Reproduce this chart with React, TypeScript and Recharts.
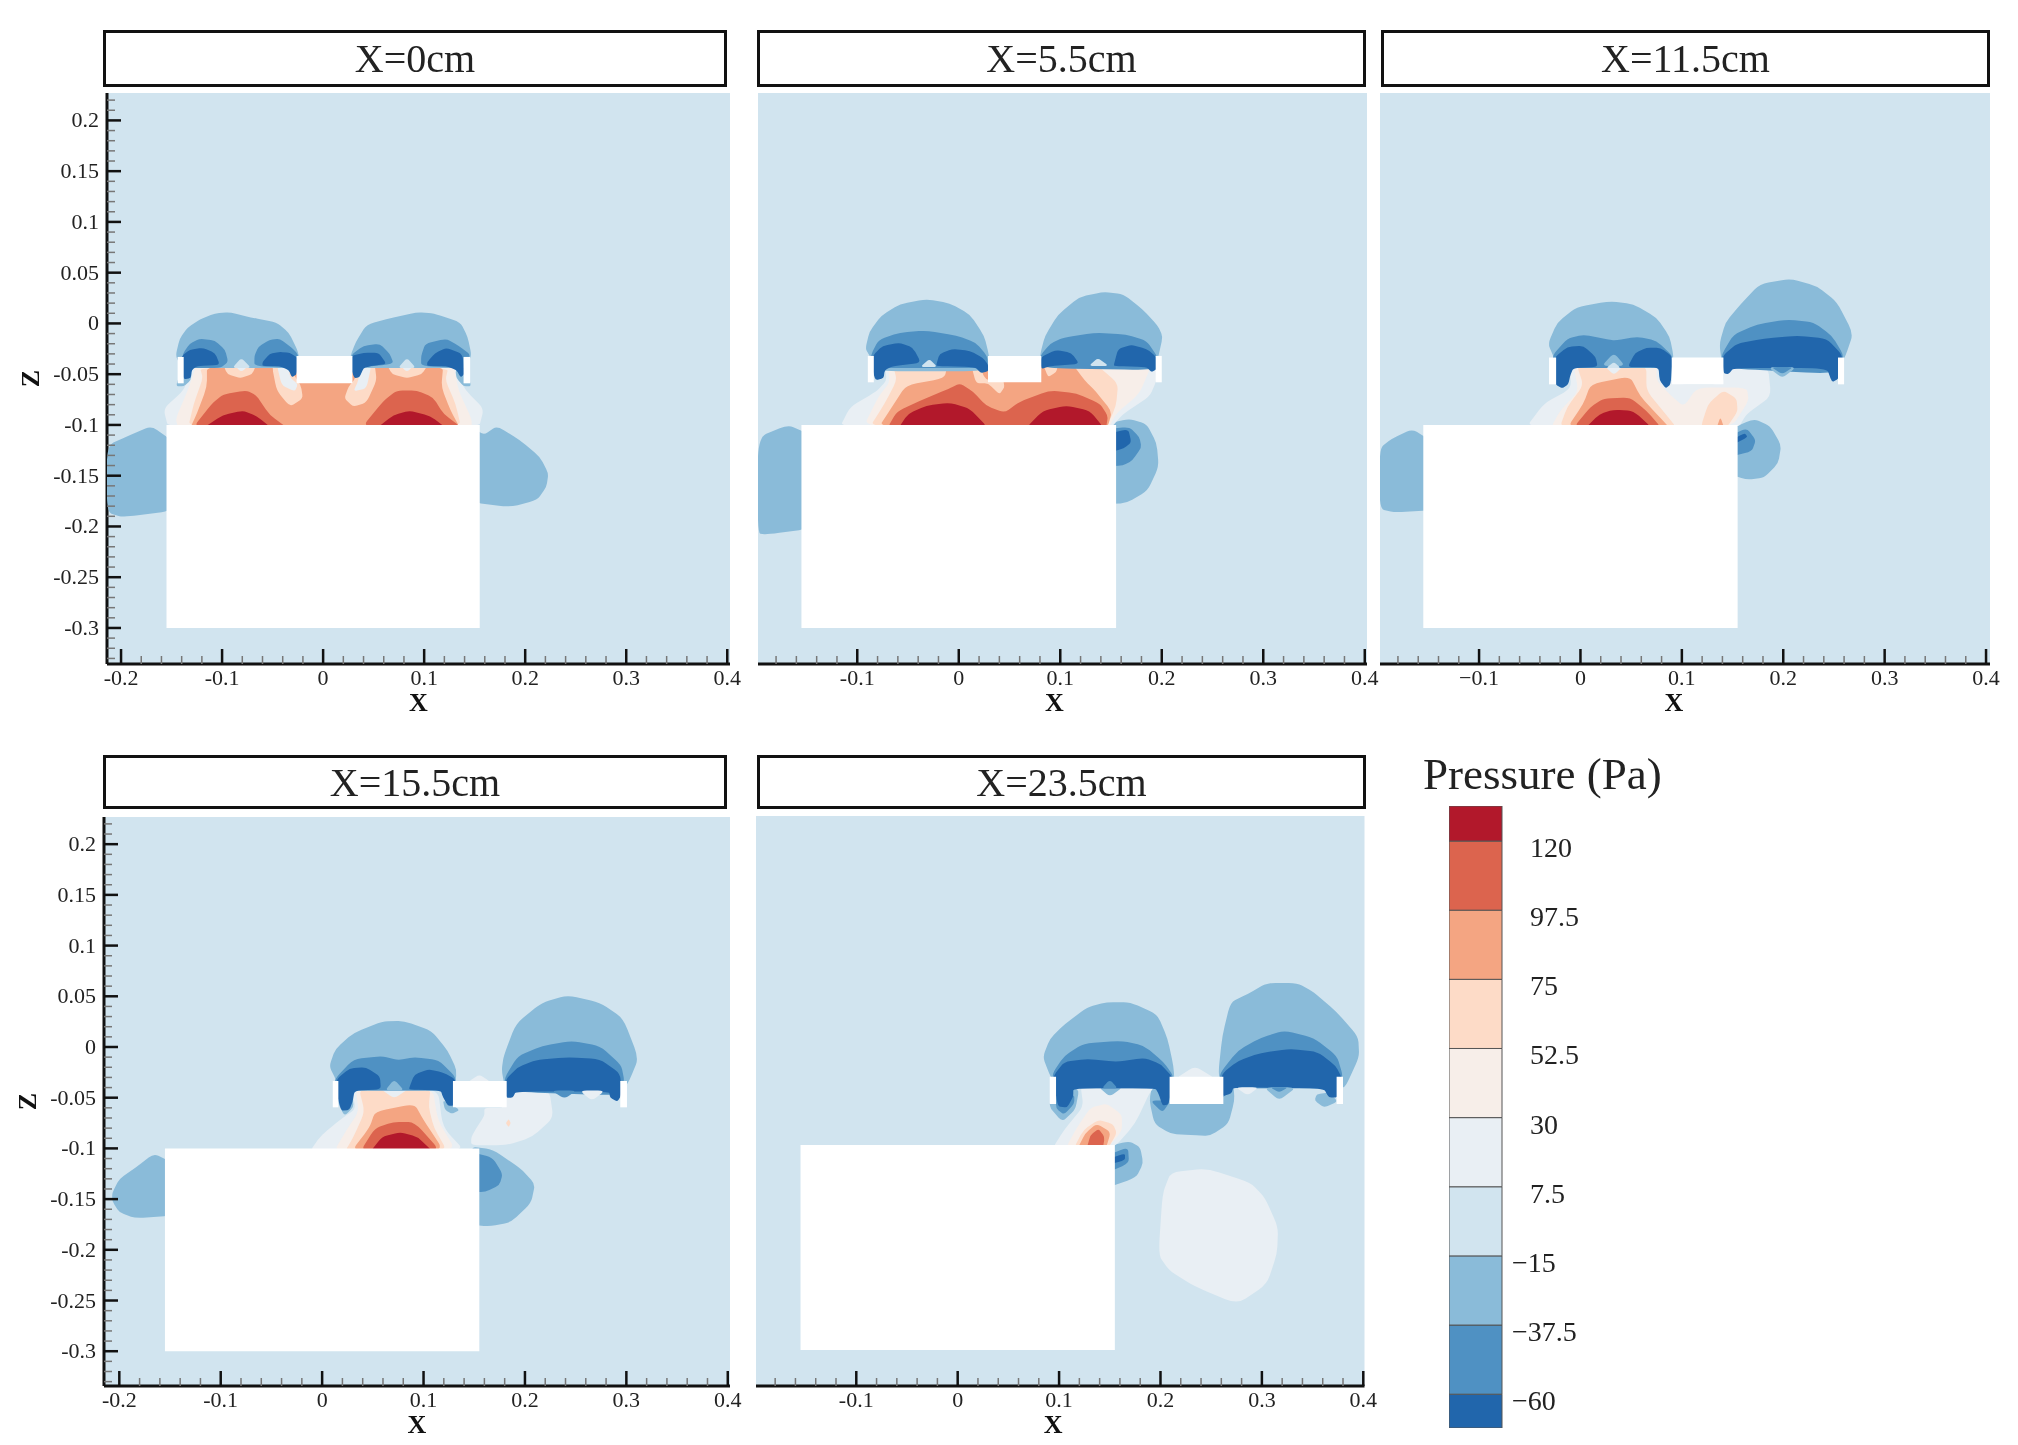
import React from 'react';
import { ScatterChart, Scatter, XAxis, YAxis } from 'recharts';

type Pt = [number, number];
type Layer = [Pt[], number];

const SERIF = '"Liberation Serif", "Times New Roman", serif';

// contour colours, bottom level first (same order as the colour bar)
const LEVEL_COLORS = ['#2166ac', '#4f91c3', '#8abbd9', '#d1e4ef', '#e9eff4', '#f7eee9', '#fddbc7', '#f4a582', '#dc644e', '#b2182b'];
const LEVEL_EDGES = [-71, -60, -37.5, -15, 7.5, 30, 52.5, 75, 97.5, 120, 131.4];
const LEVEL_TICKS = [120, 97.5, 75, 52.5, 30, 7.5, -15, -37.5, -60];
const WHITE = -1;

const X_LABELS = [-0.2, -0.1, 0, 0.1, 0.2, 0.3, 0.4];
const Z_LABELS = [0.2, 0.15, 0.1, 0.05, 0, -0.05, -0.1, -0.15, -0.2, -0.25, -0.3];

const steps = (from: number, to: number, step: number) => {
  const out: number[] = [];
  for (let i = 0; from + i * step <= to + 1e-9; i++) out.push(Math.round((from + i * step) * 100) / 100);
  return out;
};

const CAR_BODY: Pt[] = [[-0.155, -0.1], [0.155, -0.1], [0.155, -0.3], [-0.155, -0.3]];
const CAR_BODY_P5: Pt[] = [[-0.155, -0.1], [0.155, -0.1], [0.155, -0.302], [-0.155, -0.302]];

// ---- X=0cm
const P1_BLOB_LEFT: Pt[] = [[-0.214, -0.12], [-0.191, -0.11], [-0.17, -0.101], [-0.15, -0.115], [-0.145, -0.184], [-0.198, -0.191], [-0.214, -0.186]];
const P1_BLOB_RIGHT: Pt[] = [[0.145, -0.1], [0.159, -0.11], [0.172, -0.101], [0.195, -0.115], [0.215, -0.132], [0.223, -0.148], [0.221, -0.161], [0.212, -0.174], [0.185, -0.181], [0.145, -0.176]];
const P1_POS4: Pt[] = [[-0.132, -0.049], [-0.138, -0.066], [-0.158, -0.084], [-0.153, -0.104], [0.154, -0.104], [0.159, -0.084], [0.141, -0.066], [0.132, -0.049], [0.132, -0.043], [-0.128, -0.043]];
const P1_POS5: Pt[] = [[-0.127, -0.046], [-0.134, -0.066], [-0.146, -0.094], [-0.143, -0.104], [0.147, -0.104], [0.147, -0.094], [0.134, -0.066], [0.13, -0.046], [0.13, -0.043], [-0.127, -0.043]];
const P1_POS6: Pt[] = [[-0.122, -0.043], [-0.119, -0.054], [-0.128, -0.079], [-0.134, -0.104], [0.137, -0.104], [0.131, -0.079], [0.121, -0.056], [0.124, -0.043]];
const P1_POS7: Pt[] = [[-0.115, -0.04], [-0.115, -0.0625], [-0.125, -0.089], [-0.132, -0.104], [0.136, -0.104], [0.126, -0.0855], [0.117, -0.0625], [0.119, -0.04]];
const P1_BUMP6_L: Pt[] = [[-0.099, -0.04], [-0.095, -0.05], [-0.082, -0.054], [-0.07, -0.05], [-0.066, -0.04]];
const P1_BUMP6_R: Pt[] = [[0.063, -0.04], [0.068, -0.05], [0.083, -0.054], [0.098, -0.05], [0.104, -0.04]];
const P1_BUMP4_L: Pt[] = [[-0.089, -0.04], [-0.081, -0.048], [-0.072, -0.04]];
const P1_BUMP4_R: Pt[] = [[0.075, -0.04], [0.083, -0.048], [0.091, -0.04]];
const P1_MID6_L: Pt[] = [[-0.051, -0.04], [-0.046, -0.066], [-0.033, -0.082], [-0.02, -0.074], [-0.022, -0.061], [-0.03, -0.049], [-0.03, -0.04]];
const P1_MID4_L: Pt[] = [[-0.046, -0.04], [-0.041, -0.061], [-0.028, -0.067], [-0.025, -0.06], [-0.033, -0.053], [-0.034, -0.04]];
const P1_MID6_R: Pt[] = [[0.021, -0.074], [0.03, -0.082], [0.043, -0.078], [0.053, -0.056], [0.051, -0.04], [0.033, -0.04], [0.032, -0.054], [0.025, -0.0625]];
const P1_MID4_R: Pt[] = [[0.03, -0.067], [0.043, -0.064], [0.048, -0.04], [0.036, -0.04], [0.035, -0.056]];
const P1_HIGH8_L: Pt[] = [[-0.13, -0.104], [-0.11, -0.079], [-0.099, -0.07], [-0.076, -0.066], [-0.066, -0.071], [-0.053, -0.09], [-0.034, -0.104]];
const P1_HIGH8_R: Pt[] = [[0.037, -0.104], [0.06, -0.076], [0.073, -0.066], [0.093, -0.066], [0.109, -0.073], [0.119, -0.089], [0.139, -0.104]];
const P1_HIGH9_L: Pt[] = [[-0.12, -0.104], [-0.099, -0.09], [-0.079, -0.086], [-0.066, -0.091], [-0.05, -0.104]];
const P1_HIGH9_R: Pt[] = [[0.052, -0.104], [0.07, -0.09], [0.086, -0.086], [0.106, -0.091], [0.123, -0.104]];
const P1_TAIL_L: Pt[] = [[-0.138, -0.04], [-0.13, -0.046], [-0.131, -0.056], [-0.138, -0.062], [-0.146, -0.062]];
const P1_TAIL_R: Pt[] = [[0.131, -0.046], [0.139, -0.04], [0.147, -0.062], [0.139, -0.062], [0.132, -0.054]];
const P1_CAP_L: Pt[] = [[-0.146, -0.032], [-0.142, -0.015], [-0.134, -0.004], [-0.122, 0.004], [-0.107, 0.01], [-0.092, 0.011], [-0.072, 0.006], [-0.046, 0.001], [-0.034, -0.009], [-0.026, -0.025], [-0.024, -0.032], [-0.025, -0.044], [-0.14, -0.044]];
const P1_CAP_L1A: Pt[] = [[-0.139, -0.03], [-0.132, -0.02], [-0.122, -0.015], [-0.107, -0.017], [-0.097, -0.026], [-0.094, -0.038], [-0.102, -0.044], [-0.14, -0.044]];
const P1_CAP_L1B: Pt[] = [[-0.068, -0.032], [-0.064, -0.023], [-0.053, -0.016], [-0.043, -0.015], [-0.031, -0.024], [-0.025, -0.03], [-0.025, -0.044], [-0.068, -0.042]];
const P1_CAP_L0A: Pt[] = [[-0.14, -0.032], [-0.132, -0.026], [-0.119, -0.024], [-0.107, -0.029], [-0.102, -0.041], [-0.125, -0.042], [-0.13, -0.046], [-0.131, -0.054], [-0.138, -0.055], [-0.14, -0.046]];
const P1_CAP_L0B: Pt[] = [[-0.06, -0.038], [-0.053, -0.03], [-0.043, -0.028], [-0.033, -0.029], [-0.025, -0.034], [-0.026, -0.05], [-0.031, -0.053], [-0.034, -0.046], [-0.043, -0.042], [-0.06, -0.042]];
const P1_CAP_LB: Pt[] = [[-0.09, -0.044], [-0.081, -0.034], [-0.071, -0.044]];
const P1_CAP_R: Pt[] = [[0.027, -0.032], [0.032, -0.019], [0.043, -0.001], [0.07, 0.006], [0.093, 0.011], [0.109, 0.01], [0.136, 0.001], [0.143, -0.013], [0.147, -0.032], [0.14, -0.044], [0.028, -0.044]];
const P1_CAP_R1A: Pt[] = [[0.028, -0.031], [0.04, -0.022], [0.056, -0.02], [0.066, -0.03], [0.07, -0.04], [0.028, -0.044]];
const P1_CAP_R1B: Pt[] = [[0.097, -0.032], [0.101, -0.02], [0.122, -0.015], [0.134, -0.022], [0.146, -0.031], [0.14, -0.044], [0.097, -0.042]];
const P1_CAP_R0A: Pt[] = [[0.028, -0.032], [0.04, -0.029], [0.055, -0.029], [0.063, -0.04], [0.047, -0.042], [0.04, -0.044], [0.036, -0.053], [0.031, -0.054], [0.028, -0.046]];
const P1_CAP_R0B: Pt[] = [[0.103, -0.038], [0.111, -0.029], [0.122, -0.024], [0.138, -0.03], [0.14, -0.05], [0.136, -0.053], [0.132, -0.046], [0.122, -0.042], [0.103, -0.042]];
const P1_CAP_RB: Pt[] = [[0.074, -0.044], [0.083, -0.034], [0.092, -0.044]];
const P1_GAP_MID: Pt[] = [[-0.0263, -0.032], [0.029, -0.032], [0.029, -0.059], [-0.0263, -0.059]];
const P1_GAP_L: Pt[] = [[-0.144, -0.033], [-0.138, -0.033], [-0.138, -0.059], [-0.144, -0.059]];
const P1_GAP_R: Pt[] = [[0.139, -0.033], [0.1455, -0.033], [0.1455, -0.059], [0.139, -0.059]];

const P1_LAYERS: Layer[] = [
  [P1_BLOB_LEFT, 2], [P1_BLOB_RIGHT, 2], [P1_POS4, 4], [P1_POS5, 5], [P1_POS6, 6], [P1_POS7, 7],
  [P1_BUMP6_L, 6], [P1_BUMP6_R, 6], [P1_BUMP4_L, 4], [P1_BUMP4_R, 4], [P1_MID6_L, 6], [P1_MID4_L, 4], [P1_MID6_R, 6], [P1_MID4_R, 4],
  [P1_HIGH8_L, 8], [P1_HIGH8_R, 8], [P1_HIGH9_L, 9], [P1_HIGH9_R, 9], [P1_TAIL_L, 2], [P1_TAIL_R, 2],
  [P1_CAP_L, 2], [P1_CAP_L1A, 1], [P1_CAP_L1B, 1], [P1_CAP_L0A, 0], [P1_CAP_L0B, 0], [P1_CAP_LB, 3],
  [P1_CAP_R, 2], [P1_CAP_R1A, 1], [P1_CAP_R1B, 1], [P1_CAP_R0A, 0], [P1_CAP_R0B, 0], [P1_CAP_RB, 3],
  [P1_GAP_MID, WHITE], [P1_GAP_L, WHITE], [P1_GAP_R, WHITE], [CAR_BODY, WHITE],
];

// ---- X=5.5cm
const P2_BLOB_LEFT: Pt[] = [[-0.198, -0.112], [-0.168, -0.1], [-0.15, -0.108], [-0.145, -0.202], [-0.189, -0.208], [-0.198, -0.207]];
const P2_BLOB_R2: Pt[] = [[0.145, -0.099], [0.168, -0.094], [0.185, -0.099], [0.195, -0.118], [0.197, -0.141], [0.186, -0.165], [0.165, -0.177], [0.145, -0.178]];
const P2_BLOB_R1: Pt[] = [[0.145, -0.104], [0.168, -0.102], [0.178, -0.112], [0.18, -0.122], [0.171, -0.135], [0.162, -0.14], [0.145, -0.141]];
const P2_BLOB_R0: Pt[] = [[0.145, -0.109], [0.167, -0.104], [0.17, -0.117], [0.163, -0.123], [0.145, -0.128]];
const P2_POS4: Pt[] = [[-0.073, -0.04], [-0.071, -0.056], [-0.081, -0.067], [-0.107, -0.082], [-0.118, -0.104], [0.149, -0.104], [0.162, -0.089], [0.188, -0.072], [0.195, -0.056], [0.194, -0.04]];
const P2_POS5: Pt[] = [[-0.07, -0.04], [-0.068, -0.058], [-0.079, -0.072], [-0.095, -0.104], [0.147, -0.104], [0.155, -0.089], [0.178, -0.069], [0.187, -0.048], [0.189, -0.04]];
const P2_POS6: Pt[] = [[-0.065, -0.04], [-0.061, -0.056], [-0.073, -0.079], [-0.089, -0.104], [0.145, -0.104], [0.155, -0.081], [0.157, -0.059], [0.135, -0.04]];
const P2_POS7: Pt[] = [[-0.011, -0.04], [-0.014, -0.054], [-0.052, -0.061], [-0.065, -0.081], [-0.08, -0.104], [0.146, -0.104], [0.151, -0.087], [0.135, -0.067], [0.124, -0.056], [0.112, -0.04]];
const P2_POCKET_L: Pt[] = [[0.012, -0.04], [0.017, -0.059], [0.029, -0.059], [0.04, -0.07], [0.045, -0.063], [0.044, -0.056], [0.028, -0.056], [0.024, -0.051], [0.021, -0.04]];
const P2_TOP6: Pt[] = [[-0.045, -0.04], [-0.035, -0.051], [-0.015, -0.051], [-0.011, -0.04]];
const P2_TOP4: Pt[] = [[-0.038, -0.04], [-0.028, -0.047], [-0.017, -0.04]];
const P2_POCKET_R: Pt[] = [[0.083, -0.04], [0.088, -0.053], [0.096, -0.048], [0.098, -0.04]];
const P2_HIGH8: Pt[] = [[-0.071, -0.104], [-0.061, -0.087], [-0.038, -0.076], [-0.009, -0.064], [0.001, -0.059], [0.014, -0.067], [0.027, -0.081], [0.045, -0.088], [0.06, -0.077], [0.09, -0.066], [0.116, -0.069], [0.139, -0.079], [0.147, -0.091], [0.145, -0.104]];
const P2_HIGH9_L: Pt[] = [[-0.06, -0.104], [-0.05, -0.089], [-0.032, -0.081], [-0.009, -0.078], [0.011, -0.084], [0.03, -0.104]];
const P2_HIGH9_R: Pt[] = [[0.065, -0.104], [0.083, -0.086], [0.106, -0.081], [0.129, -0.086], [0.144, -0.104]];
const P2_CAP_L: Pt[] = [[-0.092, -0.025], [-0.088, -0.008], [-0.076, 0.008], [-0.058, 0.019], [-0.032, 0.024], [-0.009, 0.02], [0.011, 0.009], [0.025, -0.012], [0.03, -0.032], [0.029, -0.047], [-0.084, -0.047], [-0.087, -0.033]];
const P2_CAP_L1: Pt[] = [[-0.087, -0.032], [-0.079, -0.016], [-0.058, -0.009], [-0.032, -0.007], [-0.002, -0.012], [0.017, -0.019], [0.028, -0.032], [0.029, -0.044], [-0.084, -0.044]];
const P2_CAP_L0A: Pt[] = [[-0.085, -0.032], [-0.075, -0.022], [-0.058, -0.019], [-0.045, -0.024], [-0.037, -0.039], [-0.065, -0.042], [-0.073, -0.046], [-0.074, -0.054], [-0.082, -0.056], [-0.085, -0.046]];
const P2_CAP_L0B: Pt[] = [[-0.022, -0.04], [-0.019, -0.03], [-0.006, -0.025], [0.011, -0.027], [0.024, -0.034], [0.029, -0.041], [0.029, -0.047], [0.022, -0.049], [0.016, -0.043], [-0.022, -0.042]];
const P2_CAP_LB: Pt[] = [[-0.038, -0.043], [-0.029, -0.035], [-0.021, -0.043]];
const P2_CAP_R: Pt[] = [[0.08, -0.031], [0.085, -0.012], [0.098, 0.009], [0.119, 0.026], [0.142, 0.031], [0.162, 0.029], [0.181, 0.014], [0.196, -0.002], [0.201, -0.013], [0.197, -0.031], [0.194, -0.044], [0.082, -0.044]];
const P2_CAP_R1: Pt[] = [[0.08, -0.032], [0.09, -0.02], [0.103, -0.014], [0.135, -0.009], [0.165, -0.011], [0.185, -0.017], [0.196, -0.033], [0.195, -0.046], [0.082, -0.044]];
const P2_CAP_R0A: Pt[] = [[0.081, -0.033], [0.096, -0.026], [0.111, -0.029], [0.119, -0.04], [0.09, -0.042], [0.081, -0.045]];
const P2_CAP_R0B: Pt[] = [[0.153, -0.04], [0.157, -0.025], [0.17, -0.021], [0.185, -0.025], [0.195, -0.033], [0.195, -0.045], [0.19, -0.048], [0.185, -0.043], [0.153, -0.042]];
const P2_CAP_RB: Pt[] = [[0.128, -0.042], [0.137, -0.034], [0.148, -0.042]];
const P2_GAP_MID: Pt[] = [[0.0288, -0.032], [0.0813, -0.032], [0.0813, -0.058], [0.0288, -0.058]];
const P2_GAP_L: Pt[] = [[-0.0896, -0.032], [-0.0837, -0.032], [-0.0837, -0.058], [-0.0896, -0.058]];
const P2_GAP_R: Pt[] = [[0.194, -0.032], [0.2, -0.032], [0.2, -0.058], [0.194, -0.058]];

const P2_LAYERS: Layer[] = [
  [P2_BLOB_LEFT, 2], [P2_BLOB_R2, 2], [P2_BLOB_R1, 1], [P2_BLOB_R0, 0], [P2_POS4, 4], [P2_POS5, 5], [P2_POS6, 6], [P2_POS7, 7],
  [P2_POCKET_L, 6], [P2_TOP6, 6], [P2_TOP4, 4], [P2_POCKET_R, 6], [P2_HIGH8, 8], [P2_HIGH9_L, 9], [P2_HIGH9_R, 9],
  [P2_CAP_L, 2], [P2_CAP_L1, 1], [P2_CAP_L0A, 0], [P2_CAP_L0B, 0], [P2_CAP_LB, 3],
  [P2_CAP_R, 2], [P2_CAP_R1, 1], [P2_CAP_R0A, 0], [P2_CAP_R0B, 0], [P2_CAP_RB, 3],
  [P2_GAP_MID, WHITE], [P2_GAP_L, WHITE], [P2_GAP_R, WHITE], [CAR_BODY, WHITE],
];

// ---- X=11.5cm
const P3_BLOB_LEFT: Pt[] = [[-0.198, -0.123], [-0.186, -0.1135], [-0.166, -0.104], [-0.15, -0.114], [-0.145, -0.184], [-0.183, -0.186], [-0.198, -0.183]];
const P3_BLOB_R2: Pt[] = [[0.145, -0.105], [0.171, -0.094], [0.187, -0.101], [0.198, -0.12], [0.195, -0.138], [0.181, -0.152], [0.164, -0.154], [0.145, -0.148]];
const P3_BLOB_R1: Pt[] = [[0.145, -0.112], [0.164, -0.103], [0.173, -0.115], [0.169, -0.126], [0.145, -0.132]];
const P3_BLOB_R0: Pt[] = [[0.145, -0.117], [0.162, -0.108], [0.165, -0.112], [0.145, -0.122]];
const P3_POS4: Pt[] = [[-0.011, -0.04], [-0.009, -0.064], [-0.036, -0.079], [-0.055, -0.104], [0.155, -0.104], [0.164, -0.089], [0.188, -0.072], [0.185, -0.042], [0.141, -0.04], [0.141, -0.06], [0.09, -0.06], [0.082, -0.04]];
const P3_POS5: Pt[] = [[-0.007, -0.04], [-0.002, -0.067], [-0.02, -0.086], [-0.03, -0.104], [0.148, -0.104], [0.166, -0.076], [0.164, -0.063], [0.115, -0.063], [0.102, -0.082], [0.087, -0.069], [0.075, -0.056], [0.075, -0.04]];
const P3_POS6: Pt[] = [[-0.004, -0.04], [0.003, -0.061], [-0.013, -0.082], [-0.021, -0.104], [0.096, -0.104], [0.082, -0.087], [0.065, -0.066], [0.065, -0.04]];
const P3_RIGHT6: Pt[] = [[0.118, -0.104], [0.126, -0.079], [0.141, -0.066], [0.154, -0.074], [0.155, -0.087], [0.143, -0.104]];
const P3_RIGHT7: Pt[] = [[0.134, -0.104], [0.138, -0.092], [0.142, -0.104]];
const P3_POS7: Pt[] = [[0.01, -0.06], [0.049, -0.052], [0.059, -0.072], [0.075, -0.089], [0.089, -0.104], [-0.014, -0.104], [0.003, -0.079]];
const P3_HIGH8: Pt[] = [[-0.008, -0.104], [0.01, -0.082], [0.023, -0.074], [0.049, -0.073], [0.065, -0.086], [0.081, -0.104]];
const P3_HIGH9: Pt[] = [[0.004, -0.104], [0.019, -0.089], [0.033, -0.085], [0.052, -0.086], [0.072, -0.104]];
const P3_TOP4: Pt[] = [[0.022, -0.04], [0.033, -0.051], [0.044, -0.04]];
const P3_CAP_L: Pt[] = [[-0.032, -0.02], [-0.023, 0.001], [-0.004, 0.016], [0.029, 0.022], [0.052, 0.019], [0.075, 0.006], [0.088, -0.013], [0.092, -0.033], [0.089, -0.044], [-0.024, -0.044], [-0.026, -0.034]];
const P3_CAP_L1: Pt[] = [[-0.028, -0.032], [-0.013, -0.015], [0.003, -0.011], [0.023, -0.015], [0.034, -0.017], [0.056, -0.013], [0.075, -0.017], [0.091, -0.032], [0.089, -0.044], [-0.024, -0.044]];
const P3_CAP_L0A: Pt[] = [[-0.026, -0.034], [-0.013, -0.023], [0.003, -0.022], [0.015, -0.033], [0.017, -0.043], [-0.007, -0.044], [-0.01, -0.051], [-0.012, -0.06], [-0.018, -0.064], [-0.025, -0.06]];
const P3_CAP_L0B: Pt[] = [[0.048, -0.04], [0.054, -0.029], [0.065, -0.024], [0.079, -0.024], [0.091, -0.033], [0.089, -0.06], [0.084, -0.064], [0.078, -0.056], [0.077, -0.043], [0.048, -0.043]];
const P3_CAP_LB2: Pt[] = [[0.021, -0.042], [0.033, -0.029], [0.044, -0.042]];
const P3_CAP_LB3: Pt[] = [[0.025, -0.044], [0.033, -0.038], [0.04, -0.044]];
const P3_CAP_R: Pt[] = [[0.137, -0.02], [0.143, 0.001], [0.158, 0.019], [0.177, 0.039], [0.207, 0.044], [0.233, 0.037], [0.253, 0.021], [0.269, -0.01], [0.261, -0.033], [0.254, -0.044], [0.14, -0.044]];
const P3_CAP_R1: Pt[] = [[0.139, -0.031], [0.151, -0.011], [0.174, -0.001], [0.204, 0.004], [0.23, 0.001], [0.248, -0.012], [0.26, -0.032], [0.254, -0.05], [0.141, -0.044]];
const P3_CAP_R0: Pt[] = [[0.14, -0.032], [0.154, -0.02], [0.181, -0.015], [0.214, -0.012], [0.243, -0.015], [0.259, -0.032], [0.255, -0.054], [0.248, -0.058], [0.243, -0.044], [0.151, -0.044], [0.146, -0.05], [0.141, -0.049]];
const P3_UNDER2: Pt[] = [[0.185, -0.043], [0.199, -0.054], [0.213, -0.043]];
const P3_UNDER1: Pt[] = [[0.188, -0.043], [0.199, -0.05], [0.21, -0.043]];
const P3_GAP_MID: Pt[] = [[0.09, -0.0336], [0.141, -0.0336], [0.141, -0.06], [0.09, -0.06]];
const P3_GAP_L: Pt[] = [[-0.031, -0.0336], [-0.024, -0.0336], [-0.024, -0.06], [-0.031, -0.06]];
const P3_GAP_R: Pt[] = [[0.254, -0.0336], [0.26, -0.0336], [0.26, -0.06], [0.254, -0.06]];

const P3_LAYERS: Layer[] = [
  [P3_BLOB_LEFT, 2], [P3_BLOB_R2, 2], [P3_BLOB_R1, 1], [P3_BLOB_R0, 0], [P3_POS4, 4], [P3_POS5, 5], [P3_POS6, 6], [P3_RIGHT6, 6], [P3_RIGHT7, 7],
  [P3_POS7, 7], [P3_HIGH8, 8], [P3_HIGH9, 9], [P3_TOP4, 4],
  [P3_CAP_L, 2], [P3_CAP_L1, 1], [P3_CAP_L0A, 0], [P3_CAP_L0B, 0], [P3_CAP_LB2, 2], [P3_CAP_LB3, 3],
  [P3_CAP_R, 2], [P3_CAP_R1, 1], [P3_CAP_R0, 0], [P3_UNDER2, 2], [P3_UNDER1, 1],
  [P3_GAP_MID, WHITE], [P3_GAP_L, WHITE], [P3_GAP_R, WHITE], [CAR_BODY, WHITE],
];

// ---- X=15.5cm
const P4_BLOB_LEFT: Pt[] = [[-0.207, -0.144], [-0.2, -0.13], [-0.184, -0.119], [-0.166, -0.105], [-0.15, -0.113], [-0.145, -0.166], [-0.184, -0.169], [-0.2, -0.163], [-0.207, -0.152]];
const P4_BLOB_R2: Pt[] = [[0.145, -0.098], [0.168, -0.101], [0.196, -0.12], [0.21, -0.135], [0.206, -0.154], [0.186, -0.173], [0.165, -0.177], [0.145, -0.175]];
const P4_BLOB_R1: Pt[] = [[0.145, -0.103], [0.168, -0.109], [0.178, -0.125], [0.175, -0.136], [0.161, -0.143], [0.145, -0.143]];
const P4_WAKE4: Pt[] = [[0.147, -0.097], [0.182, -0.097], [0.207, -0.089], [0.228, -0.07], [0.224, -0.042], [0.18, -0.042], [0.18, -0.06], [0.16, -0.06], [0.16, -0.068], [0.152, -0.08], [0.147, -0.089]];
const P4_TOPBUMP4: Pt[] = [[0.143, -0.035], [0.155, -0.027], [0.167, -0.035]];
const P4_SPECK6: Pt[] = [[0.181, -0.075], [0.184, -0.071], [0.186, -0.075], [0.184, -0.079]];
const P4_TAIL_L: Pt[] = [[0.016, -0.056], [0.022, -0.068], [0.031, -0.059], [0.03, -0.05], [0.016, -0.05]];
const P4_TAIL_R: Pt[] = [[0.119, -0.052], [0.136, -0.062], [0.128, -0.066], [0.121, -0.062]];
const P4_POS4: Pt[] = [[0.029, -0.04], [0.033, -0.061], [0.02, -0.07], [-0.001, -0.087], [-0.013, -0.104], [0.142, -0.104], [0.119, -0.079], [0.114, -0.04]];
const P4_POS5: Pt[] = [[0.033, -0.04], [0.036, -0.064], [0.024, -0.082], [0.011, -0.104], [0.133, -0.104], [0.114, -0.072], [0.109, -0.04]];
const P4_POS6: Pt[] = [[0.036, -0.04], [0.042, -0.064], [0.031, -0.0885], [0.022, -0.104], [0.124, -0.104], [0.11, -0.079], [0.105, -0.059], [0.107, -0.04]];
const P4_POS7: Pt[] = [[0.052, -0.064], [0.091, -0.056], [0.1, -0.072], [0.121, -0.104], [0.028, -0.104], [0.047, -0.079]];
const P4_HIGH8: Pt[] = [[0.037, -0.104], [0.052, -0.08], [0.07, -0.074], [0.091, -0.074], [0.118, -0.104]];
const P4_HIGH9: Pt[] = [[0.047, -0.104], [0.059, -0.0885], [0.077, -0.084], [0.094, -0.0885], [0.11, -0.104]];
const P4_TOP4: Pt[] = [[0.056, -0.04], [0.071, -0.051], [0.087, -0.04]];
const P4_CAP_L: Pt[] = [[0.007, -0.019], [0.013, -0.002], [0.031, 0.014], [0.059, 0.025], [0.08, 0.026], [0.108, 0.016], [0.124, -0.004], [0.133, -0.023], [0.13, -0.043], [0.015, -0.043], [0.014, -0.033]];
const P4_CAP_L1: Pt[] = [[0.012, -0.032], [0.031, -0.012], [0.059, -0.009], [0.075, -0.013], [0.091, -0.01], [0.115, -0.013], [0.132, -0.03], [0.13, -0.043], [0.015, -0.043]];
const P4_CAP_L0A: Pt[] = [[0.014, -0.032], [0.027, -0.021], [0.043, -0.02], [0.057, -0.029], [0.058, -0.042], [0.032, -0.043], [0.03, -0.054], [0.027, -0.062], [0.019, -0.063], [0.015, -0.049]];
const P4_CAP_L0B: Pt[] = [[0.086, -0.04], [0.091, -0.027], [0.105, -0.022], [0.119, -0.025], [0.132, -0.032], [0.13, -0.058], [0.124, -0.058], [0.119, -0.049], [0.117, -0.043], [0.086, -0.042]];
const P4_CAP_LB: Pt[] = [[0.062, -0.043], [0.071, -0.032], [0.081, -0.043]];
const P4_CAP_R: Pt[] = [[0.177, -0.023], [0.179, -0.009], [0.191, 0.023], [0.217, 0.044], [0.242, 0.051], [0.274, 0.044], [0.297, 0.028], [0.312, -0.011], [0.303, -0.033], [0.296, -0.044], [0.181, -0.044]];
const P4_CAP_R1: Pt[] = [[0.18, -0.03], [0.193, -0.009], [0.217, 0.001], [0.246, 0.006], [0.274, 0.001], [0.295, -0.018], [0.298, -0.033], [0.294, -0.048], [0.181, -0.044]];
const P4_CAP_R0: Pt[] = [[0.181, -0.032], [0.193, -0.02], [0.21, -0.013], [0.242, -0.01], [0.274, -0.012], [0.294, -0.026], [0.295, -0.048], [0.291, -0.054], [0.284, -0.05], [0.283, -0.044], [0.191, -0.044], [0.188, -0.05], [0.181, -0.05]];
const P4_UNDER2: Pt[] = [[0.226, -0.043], [0.239, -0.051], [0.251, -0.043]];
const P4_UNDER4: Pt[] = [[0.254, -0.043], [0.266, -0.053], [0.279, -0.043]];
const P4_GAP_MID: Pt[] = [[0.129, -0.0335], [0.182, -0.0335], [0.182, -0.0595], [0.129, -0.0595]];
const P4_GAP_L: Pt[] = [[0.0105, -0.0335], [0.016, -0.0335], [0.016, -0.0595], [0.0105, -0.0595]];
const P4_GAP_R: Pt[] = [[0.294, -0.0335], [0.3006, -0.0335], [0.3006, -0.0595], [0.294, -0.0595]];

const P4_LAYERS: Layer[] = [
  [P4_BLOB_LEFT, 2], [P4_BLOB_R2, 2], [P4_BLOB_R1, 1], [P4_WAKE4, 4], [P4_TOPBUMP4, 4], [P4_SPECK6, 6], [P4_TAIL_L, 2], [P4_TAIL_R, 2],
  [P4_POS4, 4], [P4_POS5, 5], [P4_POS6, 6], [P4_POS7, 7], [P4_HIGH8, 8], [P4_HIGH9, 9], [P4_TOP4, 4],
  [P4_CAP_L, 2], [P4_CAP_L1, 1], [P4_CAP_L0A, 0], [P4_CAP_L0B, 0], [P4_CAP_LB, 2],
  [P4_CAP_R, 2], [P4_CAP_R1, 1], [P4_CAP_R0, 0], [P4_UNDER2, 1], [P4_UNDER4, 4],
  [P4_GAP_MID, WHITE], [P4_GAP_L, WHITE], [P4_GAP_R, WHITE], [CAR_BODY, WHITE],
];

// ---- X=23.5cm
const P5_BLOB_R2: Pt[] = [[0.145, -0.102], [0.169, -0.096], [0.18, -0.102], [0.183, -0.118], [0.176, -0.132], [0.145, -0.143]];
const P5_BLOB_R1: Pt[] = [[0.145, -0.111], [0.168, -0.102], [0.169, -0.118], [0.145, -0.128]];
const P5_BLOB_R0: Pt[] = [[0.145, -0.115], [0.165, -0.108], [0.165, -0.115], [0.145, -0.12]];
const P5_ISLAND4: Pt[] = [[0.21, -0.127], [0.246, -0.123], [0.289, -0.137], [0.303, -0.152], [0.316, -0.181], [0.315, -0.207], [0.305, -0.237], [0.276, -0.257], [0.233, -0.239], [0.209, -0.224], [0.198, -0.2085], [0.202, -0.148]];
const P5_SIDE2: Pt[] = [[0.192, -0.04], [0.272, -0.04], [0.273, -0.056], [0.267, -0.079], [0.249, -0.091], [0.23, -0.09], [0.21, -0.089], [0.194, -0.079], [0.189, -0.056]];
const P5_SIDE1A: Pt[] = [[0.19, -0.056], [0.202, -0.068], [0.21, -0.056]];
const P5_SIDE1B: Pt[] = [[0.26, -0.042], [0.26, -0.054], [0.271, -0.045]];
const P5_BUMP4: Pt[] = [[0.214, -0.035], [0.234, -0.022], [0.255, -0.035]];
const P5_TAIL2: Pt[] = [[0.09, -0.062], [0.103, -0.077], [0.116, -0.065], [0.12, -0.044], [0.094, -0.044]];
const P5_TAIL1: Pt[] = [[0.097, -0.064], [0.105, -0.07], [0.115, -0.059], [0.115, -0.05], [0.097, -0.05]];
const P5_TAIL_R: Pt[] = [[0.352, -0.056], [0.361, -0.063], [0.375, -0.057], [0.366, -0.048], [0.354, -0.05]];
const P5_POS4: Pt[] = [[0.121, -0.04], [0.124, -0.062], [0.105, -0.085], [0.093, -0.104], [0.153, -0.104], [0.175, -0.079], [0.189, -0.049], [0.196, -0.04]];
const P5_POS5: Pt[] = [[0.106, -0.104], [0.118, -0.082], [0.131, -0.063], [0.147, -0.059], [0.162, -0.07], [0.162, -0.086], [0.147, -0.104]];
const P5_POS6: Pt[] = [[0.114, -0.104], [0.124, -0.085], [0.139, -0.075], [0.153, -0.079], [0.157, -0.088], [0.148, -0.104]];
const P5_POS7: Pt[] = [[0.118, -0.104], [0.126, -0.088], [0.137, -0.079], [0.151, -0.087], [0.146, -0.104]];
const P5_POS8: Pt[] = [[0.127, -0.104], [0.131, -0.09], [0.139, -0.084], [0.145, -0.092], [0.143, -0.104]];
const P5_UNDER2: Pt[] = [[0.139, -0.043], [0.15, -0.052], [0.163, -0.043]];
const P5_CAP_L: Pt[] = [[0.084, -0.013], [0.091, 0.005], [0.105, 0.019], [0.128, 0.036], [0.147, 0.041], [0.17, 0.041], [0.197, 0.029], [0.207, 0.005], [0.213, -0.023], [0.214, -0.043], [0.097, -0.043], [0.09, -0.029]];
const P5_CAP_L1: Pt[] = [[0.093, -0.03], [0.105, -0.012], [0.124, 0], [0.161, 0.003], [0.184, -0.002], [0.203, -0.018], [0.213, -0.032], [0.208, -0.044], [0.097, -0.044]];
const P5_CAP_L0: Pt[] = [[0.094, -0.032], [0.105, -0.018], [0.128, -0.015], [0.157, -0.018], [0.184, -0.014], [0.2, -0.02], [0.213, -0.034], [0.208, -0.06], [0.202, -0.061], [0.198, -0.049], [0.195, -0.044], [0.114, -0.044], [0.114, -0.052], [0.108, -0.063], [0.099, -0.062], [0.096, -0.046]];
const P5_UNDER1: Pt[] = [[0.142, -0.044], [0.15, -0.0355], [0.158, -0.044]];
const P5_CAP_R: Pt[] = [[0.257, -0.029], [0.261, 0.008], [0.269, 0.041], [0.286, 0.049], [0.305, 0.06], [0.335, 0.06], [0.351, 0.051], [0.374, 0.031], [0.395, 0.007], [0.396, -0.013], [0.384, -0.039], [0.38, -0.044], [0.261, -0.044]];
const P5_CAP_R1: Pt[] = [[0.258, -0.03], [0.276, -0.007], [0.299, 0.006], [0.322, 0.013], [0.351, 0.006], [0.374, -0.012], [0.38, -0.032], [0.375, -0.044], [0.261, -0.044]];
const P5_CAP_R0: Pt[] = [[0.26, -0.03], [0.276, -0.017], [0.299, -0.009], [0.328, -0.005], [0.355, -0.008], [0.373, -0.022], [0.379, -0.034], [0.375, -0.053], [0.366, -0.053], [0.361, -0.044], [0.272, -0.043], [0.27, -0.049], [0.261, -0.052]];
const P5_UNDER_R2: Pt[] = [[0.302, -0.043], [0.317, -0.056], [0.334, -0.043]];
const P5_UNDER_R1: Pt[] = [[0.308, -0.043], [0.317, -0.048], [0.326, -0.043]];
const P5_UNDER_R4: Pt[] = [[0.274, -0.043], [0.286, -0.051], [0.297, -0.043]];
const P5_GAP_MID: Pt[] = [[0.209, -0.0326], [0.262, -0.0326], [0.262, -0.0595], [0.209, -0.0595]];
const P5_GAP_L: Pt[] = [[0.0908, -0.0326], [0.097, -0.0326], [0.097, -0.0595], [0.0908, -0.0595]];
const P5_GAP_R: Pt[] = [[0.3737, -0.0326], [0.38, -0.0326], [0.38, -0.0595], [0.3737, -0.0595]];

const P5_LAYERS: Layer[] = [
  [P5_BLOB_R2, 2], [P5_BLOB_R1, 1], [P5_BLOB_R0, 0], [P5_ISLAND4, 4], [P5_BUMP4, 4], [P5_SIDE2, 2], [P5_SIDE1A, 1], [P5_SIDE1B, 1],
  [P5_TAIL2, 2], [P5_TAIL1, 1], [P5_TAIL_R, 2], [P5_POS4, 4], [P5_POS5, 5], [P5_POS6, 6], [P5_POS7, 7], [P5_POS8, 8], [P5_UNDER2, 2],
  [P5_CAP_L, 2], [P5_CAP_L1, 1], [P5_CAP_L0, 0], [P5_UNDER1, 1],
  [P5_CAP_R, 2], [P5_CAP_R1, 1], [P5_CAP_R0, 0], [P5_UNDER_R2, 2], [P5_UNDER_R1, 1], [P5_UNDER_R4, 4],
  [P5_GAP_MID, WHITE], [P5_GAP_L, WHITE], [P5_GAP_R, WHITE], [CAR_BODY_P5, WHITE],
];

const TITLES = [
  { text: 'X=0cm', left: 103, right: 727, top: 30, bottom: 87 },
  { text: 'X=5.5cm', left: 757, right: 1366, top: 30, bottom: 87 },
  { text: 'X=11.5cm', left: 1381, right: 1990, top: 30, bottom: 87 },
  { text: 'X=15.5cm', left: 103, right: 727, top: 755, bottom: 809 },
  { text: 'X=23.5cm', left: 757, right: 1366, top: 755, bottom: 809 },
];

const PANELS = [
  { layers: P1_LAYERS, left: 107, right: 730, top: 93, bottom: 664, xDomain: [-0.2139, 0.4027], zDomain: [-0.3355, 0.227], showZ: true, xDx: 0, minus: '-' },
  { layers: P2_LAYERS, left: 758, right: 1367, top: 93, bottom: 664, xDomain: [-0.1978, 0.4022], zDomain: [-0.3355, 0.227], showZ: false, xDx: -8, minus: '-' },
  { layers: P3_LAYERS, left: 1380, right: 1990, top: 93, bottom: 664, xDomain: [-0.1977, 0.4039], zDomain: [-0.3355, 0.227], showZ: false, xDx: -11, minus: '\u2212' },
  { layers: P4_LAYERS, left: 104, right: 730, top: 817, bottom: 1386, xDomain: [-0.2151, 0.4022], zDomain: [-0.3343, 0.2268], showZ: true, xDx: 0, minus: '-' },
  { layers: P5_LAYERS, left: 755.5, right: 1364, top: 816, bottom: 1386, xDomain: [-0.1989, 0.4012], zDomain: [-0.3376, 0.2246], showZ: false, xDx: -7, minus: '-' },
];

const GUTTER = 100;
const FOOTER = 62;
const ROUNDING = 0.28;

const XTick = ({ x, y, payload, minus }: any) => {
  const major = X_LABELS.includes(payload.value);
  return (
    <g>
      <line x1={x} x2={x} y1={y} y2={y - (major ? 15 : 8)} stroke={major ? '#111' : '#777'} strokeWidth={major ? 2.5 : 1.5} />
      {major && (
        <text x={x} y={y + 21} textAnchor="middle" fontFamily={SERIF} fontSize={22} fill="#222">
          {String(payload.value).replace('-', minus)}
        </text>
      )}
    </g>
  );
};

const ZTick = ({ x, y, payload }: any) => {
  const major = Z_LABELS.includes(payload.value);
  return (
    <g>
      <line x1={x} x2={x + (major ? 14 : 8)} y1={y} y2={y} stroke={major ? '#111' : '#777'} strokeWidth={major ? 2.5 : 1.5} />
      {major && (
        <text x={x - 8} y={y + 7} textAnchor="end" fontFamily={SERIF} fontSize={22} fill="#222">
          {payload.value}
        </text>
      )}
    </g>
  );
};

// the contour edges are soft in the picture, so round each corner of the outline
const contourPath = (pts: any[]) => {
  const n = pts.length;
  let d = '';
  pts.forEach((p, i) => {
    const a = pts[(i - 1 + n) % n];
    const b = pts[(i + 1) % n];
    const sx = p.x + (a.x - p.x) * ROUNDING;
    const sy = p.y + (a.y - p.y) * ROUNDING;
    const ex = p.x + (b.x - p.x) * ROUNDING;
    const ey = p.y + (b.y - p.y) * ROUNDING;
    d += `${i === 0 ? 'M' : 'L'}${sx},${sy}Q${p.x},${p.y} ${ex},${ey}`;
  });
  return d + 'Z';
};

const polygon = (level: number) => (props: any) => {
  if (level === WHITE) {
    return <path d={'M' + props.points.map((p: any) => `${p.x},${p.y}`).join('L') + 'Z'} fill="#fff" />;
  }
  return <path d={contourPath(props.points)} fill={LEVEL_COLORS[level]} />;
};

const band = (stroke: string, fill: string) => (props: any) => (
  <path d={'M' + props.points.map((p: any) => `${p.x},${p.y}`).join('L') + 'Z'} fill={fill} stroke={stroke} strokeWidth={1} />
);

const noPoint = () => <g />;

const Panel = ({ p }: any) => {
  const width = p.right - p.left + GUTTER + 30;
  const height = p.bottom - p.top + FOOTER;
  const xTicks = steps(-0.2, 0.4, 0.02).filter((v) => v >= p.xDomain[0] && v <= p.xDomain[1]);
  const zTicks = steps(-0.33, 0.22, 0.01);
  return (
    <div style={{ position: 'absolute', left: p.left - GUTTER, top: p.top }}>
      <ScatterChart width={width} height={height} margin={{ top: 0, right: 30, bottom: 0, left: p.showZ ? 0 : GUTTER }}>
        <rect x={GUTTER} y={0} width={p.right - p.left} height={p.bottom - p.top} fill={LEVEL_COLORS[3]} />
        <XAxis
          type="number"
          dataKey="x"
          domain={p.xDomain}
          allowDataOverflow
          ticks={xTicks}
          interval={0}
          height={FOOTER}
          tickSize={0}
          tickMargin={0}
          tick={<XTick minus={p.minus} />}
          axisLine={{ stroke: '#111', strokeWidth: 3 }}
          label={{ value: 'X', position: 'insideBottom', offset: 15, dx: p.xDx, style: { fontFamily: SERIF, fontWeight: 700, fontSize: 26, fill: '#111' } }}
        />
        <YAxis
          type="number"
          dataKey="z"
          domain={p.zDomain}
          allowDataOverflow
          hide={!p.showZ}
          ticks={zTicks}
          interval={0}
          width={GUTTER}
          tickSize={0}
          tickMargin={0}
          tick={<ZTick />}
          axisLine={{ stroke: '#111', strokeWidth: 3 }}
          label={{ value: 'Z', angle: -90, position: 'insideLeft', offset: 23, style: { fontFamily: SERIF, fontWeight: 700, fontSize: 26, fill: '#111', textAnchor: 'middle' } }}
        />
        {p.layers.map(([pts, level]: Layer, i: number) => (
          <Scatter
            key={i}
            data={pts.map(([x, z]) => ({ x, z }))}
            line={polygon(level)}
            lineType="joint"
            shape={noPoint}
            isAnimationActive={false}
          />
        ))}
      </ScatterChart>
    </div>
  );
};

const ColorBar = () => (
  <div style={{ position: 'absolute', left: 1449, top: 806 }}>
    <ScatterChart width={190} height={622} margin={{ top: 0, right: 0, bottom: 0, left: 0 }}>
      <XAxis type="number" dataKey="x" domain={[0, 1]} hide />
      <YAxis
        type="number"
        dataKey="level"
        orientation="right"
        domain={[LEVEL_EDGES[0], LEVEL_EDGES[LEVEL_EDGES.length - 1]]}
        ticks={LEVEL_TICKS}
        interval={0}
        width={137}
        tickSize={0}
        tickMargin={0}
        axisLine={false}
        tick={({ x, y, payload }: any) => (
          <text x={x + (payload.value < 0 ? 10 : 28)} y={y + 16} fontFamily={SERIF} fontSize={28} fill="#222">
            {String(payload.value).replace('-', '\u2212')}
          </text>
        )}
      />
      {LEVEL_COLORS.map((c, i) => (
        <Scatter
          key={c}
          data={[
            { x: 0, level: LEVEL_EDGES[i] },
            { x: 1, level: LEVEL_EDGES[i] },
            { x: 1, level: LEVEL_EDGES[i + 1] },
            { x: 0, level: LEVEL_EDGES[i + 1] },
          ]}
          line={band('#555', c)}
          lineType="joint"
          shape={noPoint}
          isAnimationActive={false}
        />
      ))}
    </ScatterChart>
  </div>
);

export default function App() {
  return (
    <div style={{ position: 'absolute', left: 0, top: 0, width: 2018, height: 1445, background: '#fff', overflow: 'hidden', fontFamily: SERIF, filter: 'blur(0.5px)' }}>
      {PANELS.map((p, i) => <Panel key={i} p={p} />)}
      {TITLES.map((t) => (
        <div
          key={t.text}
          style={{
            position: 'absolute', left: t.left, top: t.top, width: t.right - t.left, height: t.bottom - t.top,
            boxSizing: 'border-box', border: '3.5px solid #111', background: '#fff',
            display: 'flex', alignItems: 'center', justifyContent: 'center', fontSize: 40, color: '#222',
          }}
        >
          {t.text}
        </div>
      ))}
      <div style={{ position: 'absolute', left: 1423, top: 746, fontSize: 45, color: '#222', lineHeight: '56px' }}>Pressure (Pa)</div>
      <ColorBar />
    </div>
  );
}
